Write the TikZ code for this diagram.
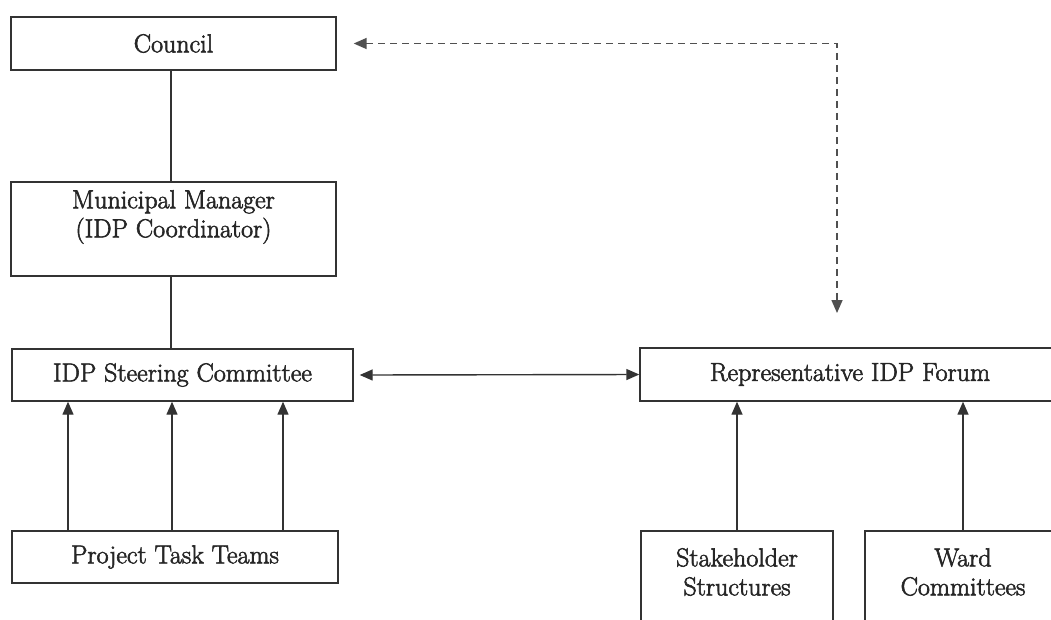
\documentclass[tikz,border=0pt]{standalone}
\usepackage{fontspec}
\newfontfamily\boxfont{Latin Modern Roman}[FakeBold=2.2]
\usetikzlibrary{arrows.meta}
\definecolor{ink}{HTML}{333333}
\definecolor{textink}{HTML}{262626}
\definecolor{dashink}{HTML}{505050}
\begin{document}
\begin{tikzpicture}[x=1pt,y=-1pt,
  box/.style={draw=ink, line width=1.4pt, rectangle, inner sep=0pt, text=textink,
    font=\boxfont\fontsize{26}{29}\selectfont},
  txt/.style={inner sep=0pt, text=textink, align=center, font=\boxfont\fontsize{26}{29}\selectfont},
  conn/.style={draw=ink, line width=1.4pt},
  arr/.style={conn, -{Triangle[length=13pt,width=11pt]}},
  biarr/.style={conn, {Triangle[length=13pt,width=11pt]}-{Triangle[length=13pt,width=11pt]}},
  dasharr/.style={draw=dashink, line width=1.6pt, dash pattern=on 7pt off 5pt,
    {Triangle[length=13pt,width=11pt]}-{Triangle[length=13pt,width=11pt]}}
]
\useasboundingbox (0,0) rectangle (1051,619);
\clip (0,0) rectangle (1051,619);
\fill[white] (0,0) rectangle (1051,619);

% left column
\node[box, minimum width=325pt, minimum height=53pt] (council) at (173.5,43.5) {Council};
\node[box, minimum width=325pt, minimum height=94pt] (mm) at (173.5,229) {};
\node[txt] (mmt) at (173.5,217) {Municipal Manager\\(IDP Coordinator)};
\node[box, minimum width=341pt, minimum height=52pt] (isc) at (182.5,375) {IDP Steering Committee};
\node[box, minimum width=326pt, minimum height=52pt] (ptt) at (175,557) {Project Task Teams};

% right column
\node[box, minimum width=420pt, minimum height=53pt] (forum) at (850,374.5) {Representative IDP Forum};
\node[box, minimum width=192pt, minimum height=120pt] (ss) at (737,591) {};
\node[txt] (sst) at (737,572) {Stakeholder\\Structures};
\node[box, minimum width=196pt, minimum height=120pt] (wc) at (963,591) {};
\node[txt] (wct) at (963,572) {Ward\\Committees};

% helper coordinates
\coordinate (xa) at (68,0);
\coordinate (xb) at (172,0);
\coordinate (xc) at (283,0);
\coordinate (xl) at (171,0);
\coordinate (dtip) at (837,313);

% connectors
\draw[conn] (council.south -| xl) -- (mm.north -| xl);
\draw[conn] (mm.south -| xl) -- (isc.north -| xl);
\draw[arr] (ptt.north -| xa) -- (isc.south -| xa);
\draw[arr] (ptt.north -| xb) -- (isc.south -| xb);
\draw[arr] (ptt.north -| xc) -- (isc.south -| xc);
\draw[biarr] ([xshift=6pt]isc.east) -- (forum.west);
\draw[arr] (ss.north) -- (forum.south -| ss.north);
\draw[arr] (wc.north) -- (forum.south -| wc.north);
\draw[dasharr] ([xshift=17pt]council.east) -| (dtip);
\end{tikzpicture}
\end{document}
